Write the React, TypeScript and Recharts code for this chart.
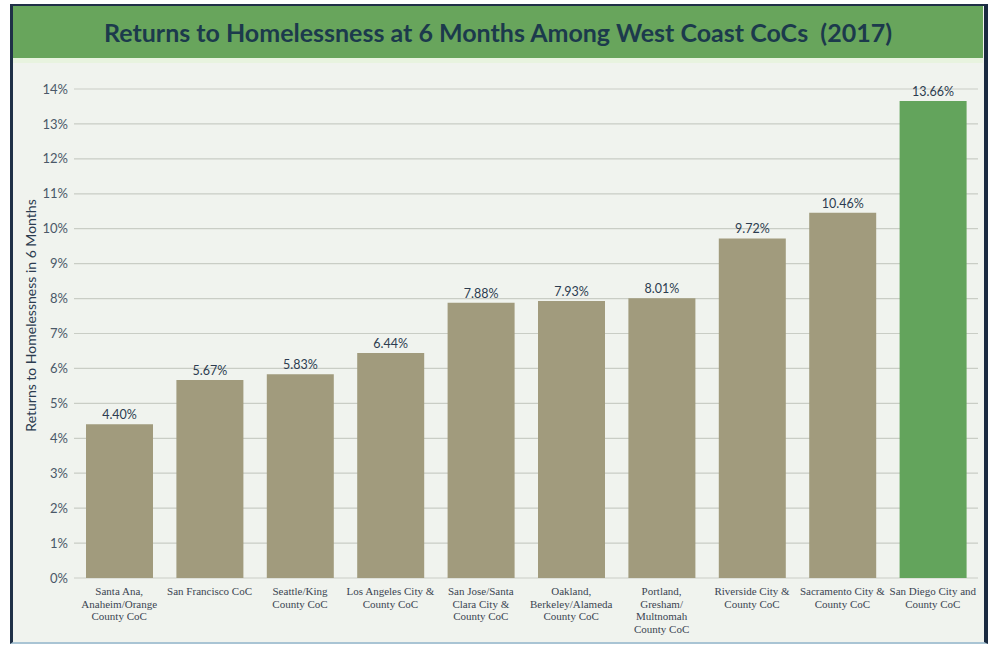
import React from 'react';
import { Bar, BarChart, CartesianGrid, Cell, LabelList, XAxis, YAxis } from 'recharts';

const categories = [
    'Santa Ana, Anaheim/Orange County CoC',
    'San Francisco CoC',
    'Seattle/King County CoC',
    'Los Angeles City & County CoC',
    'San Jose/Santa Clara City & County CoC',
    'Oakland, Berkeley/Alameda County CoC',
    'Portland, Gresham/ Multnomah County CoC',
    'Riverside City & County CoC',
    'Sacramento City & County CoC',
    'San Diego City and County CoC',
];

const tickLines = [
    ['Santa Ana,', 'Anaheim/Orange', 'County CoC'],
    ['San Francisco CoC'],
    ['Seattle/King', 'County CoC'],
    ['Los Angeles City &', 'County CoC'],
    ['San Jose/Santa', 'Clara City &', 'County CoC'],
    ['Oakland,', 'Berkeley/Alameda', 'County CoC'],
    ['Portland,', 'Gresham/', 'Multnomah', 'County CoC'],
    ['Riverside City &', 'County CoC'],
    ['Sacramento City &', 'County CoC'],
    ['San Diego City and', 'County CoC'],
];

const returnRates = [4.4, 5.67, 5.83, 6.44, 7.88, 7.93, 8.01, 9.72, 10.46, 13.66];

const yTicks = [0, 1, 2, 3, 4, 5, 6, 7, 8, 9, 10, 11, 12, 13, 14];

const highlight = 'San Diego City and County CoC';

const data = categories.map((name, i) => ({ name, rate: returnRates[i] }));

const SANS = 'Lato, "Open Sans", sans-serif';

function CategoryTick({ x, y, payload, index }: any) {
    const lines = tickLines[index] || [payload.value];
    return (
        <text
            x={x}
            y={y + 9}
            textAnchor="middle"
            fill="#3b4552"
            fontSize={11}
            fontFamily='"Liberation Serif", serif'
        >
            {lines.map((l: string, i: number) => (
                <tspan key={i} x={x} dy={i === 0 ? 0 : 12.5}>
                    {l}
                </tspan>
            ))}
        </text>
    );
}

export default function App() {
    return (
        <div
            style={{
                position: 'absolute',
                left: 0,
                top: 0,
                width: 989,
                height: 645,
                background: '#ffffff',
                overflow: 'hidden',
            }}
        >
            {/* frame */}
            <div
                style={{
                    position: 'absolute',
                    left: 10,
                    top: 4,
                    width: 971,
                    height: 636,
                    background: '#f0f3ee',
                    borderLeft: '3px solid #1f3047',
                    borderTop: '2px solid #1f3047',
                    borderRight: '4px solid #1a2a40',
                    borderBottom: '2px solid #a9c4d4',
                }}
            />
            <div
                style={{
                    position: 'absolute',
                    left: 13,
                    top: 6,
                    width: 970,
                    height: 52,
                    background: '#68a55c',
                    borderBottom: '5px solid #e8f3df',
                    display: 'flex',
                    alignItems: 'center',
                    justifyContent: 'center',
                    color: '#1c3a4c',
                    fontFamily: SANS,
                    fontWeight: 700,
                    fontSize: 25,
                    whiteSpace: 'pre',
                }}
            >
                {'Returns to Homelessness at 6 Months Among West Coast CoCs  (2017)'}
            </div>
            <div style={{ position: 'absolute', left: 0, top: 0 }}>
                <BarChart
                    width={989}
                    height={645}
                    data={data}
                    margin={{ top: 89, right: 11, bottom: 0, left: 0 }}
                >
                    <CartesianGrid vertical={false} stroke="#c9cdc5" strokeWidth={1.2} />
                    <XAxis
                        dataKey="name"
                        interval={0}
                        height={67}
                        axisLine={false}
                        tickLine={false}
                        tick={<CategoryTick />}
                    />
                    <YAxis
                        width={74}
                        domain={[0, 14]}
                        ticks={yTicks}
                        interval={0}
                        axisLine={false}
                        tickLine={false}
                        tickFormatter={(v: number) => `${v}%`}
                        tick={{ fill: '#4a5868', fontSize: 13, fontFamily: SANS }}
                        tickMargin={0}
                        label={{
                            value: 'Returns to Homelessness in 6 Months',
                            angle: -90,
                            position: 'insideLeft',
                            dx: 26,
                            dy: -18,
                            style: {
                                textAnchor: 'middle',
                                fill: '#2c3c50',
                                fontSize: 14,
                                fontFamily: SANS,
                            },
                        }}
                    />
                    <Bar dataKey="rate" barSize={67} isAnimationActive={false}>
                        {data.map((d) => (
                            <Cell key={d.name} fill={d.name === highlight ? '#63a45c' : '#a19b7d'} />
                        ))}
                        <LabelList
                            dataKey="rate"
                            position="top"
                            offset={5}
                            formatter={(v: number) => `${v.toFixed(2)}%`}
                            style={{ fill: '#2c3c50', fontSize: 12.5, fontFamily: SANS }}
                        />
                    </Bar>
                </BarChart>
            </div>
        </div>
    );
}
